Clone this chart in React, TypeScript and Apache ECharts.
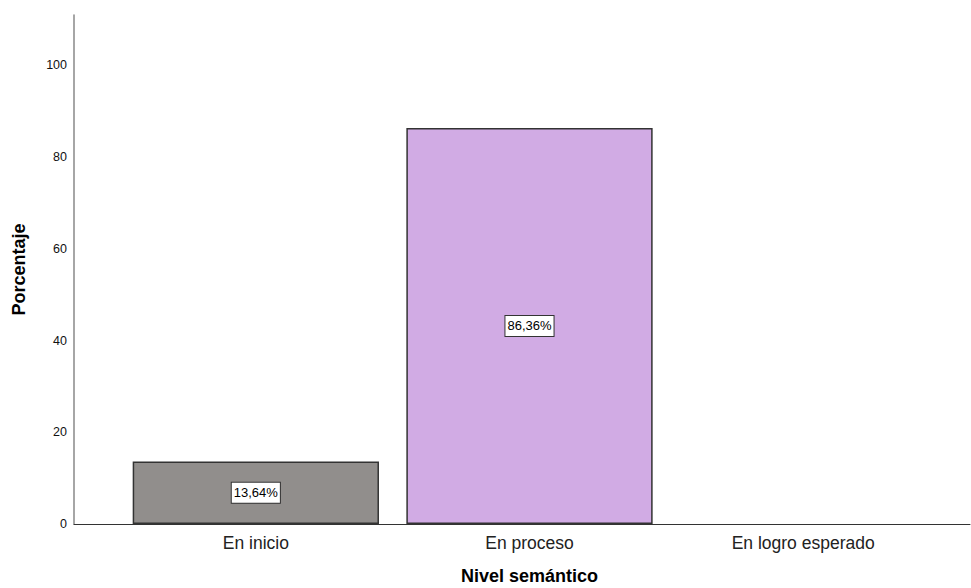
import React, { useEffect, useRef } from "react";
import * as echarts from "echarts";

const categories = ["En inicio", "En proceso", "En logro esperado"];
const values = [13.64, 86.36, 0];
const labels = ["13,64%", "86,36%", ""];
const barColors = ["#918e8c", "#d1abe4", "#cccccc"];
const yTicks = [0, 20, 40, 60, 80, 100];

export default function App() {
  const ref = useRef<HTMLDivElement>(null);
  useEffect(() => {
    if (!ref.current) return;
    const chart = echarts.init(ref.current, null, { renderer: "svg" });
    const font = "'Liberation Sans', Arial, sans-serif";
    chart.setOption({
      animation: false,
      backgroundColor: "#ffffff",
      grid: [
        { left: 119, right: 31, top: 15, bottom: 64, outerBoundsMode: "none", containLabel: false },
        { left: 74, right: 1, top: 15, bottom: 64, outerBoundsMode: "none", containLabel: false },
      ],
      xAxis: [
        {
          type: "category",
          gridIndex: 0,
          data: categories,
          axisLine: { show: false },
          axisTick: { show: false },
          axisLabel: { color: "#222", fontSize: 17.5, fontFamily: font, margin: 10 },
          name: "Nivel semántico",
          nameLocation: "middle",
          nameGap: 43,
          nameTextStyle: { color: "#000", fontSize: 18, fontWeight: "bold", fontFamily: font },
        },
        {
          type: "value",
          gridIndex: 1,
          min: 0,
          max: 1,
          axisLine: { show: true, lineStyle: { color: "#333", width: 1 } },
          axisTick: { show: false },
          axisLabel: { show: false },
          splitLine: { show: false },
        },
      ],
      yAxis: [
        {
          type: "value",
          gridIndex: 0,
          min: 0,
          max: 111,
          show: false,
          splitLine: { show: false },
        },
        {
          type: "value",
          gridIndex: 1,
          min: 0,
          max: 111,
          interval: 20,
          axisLine: { show: true, lineStyle: { color: "#888", width: 1.5 } },
          axisTick: { show: false },
          splitLine: { show: false },
          axisLabel: {
            color: "#111",
            fontSize: 12.5,
            fontFamily: font,
            margin: 7,
            showMaxLabel: false,
            formatter: (v: number) => (yTicks.includes(v) ? String(v) : ""),
          },
          name: "Porcentaje",
          nameLocation: "middle",
          nameGap: 46,
          nameRotate: 90,
          nameTextStyle: { color: "#000", fontSize: 18, fontWeight: "bold", fontFamily: font },
        },
      ],
      series: [
        {
          type: "bar",
          xAxisIndex: 0,
          yAxisIndex: 0,
          barCategoryGap: "10%",
          data: values.map((v, i) => ({
            value: v,
            itemStyle: {
              color: barColors[i],
              borderColor: "#333",
              borderWidth: v > 0 ? 1.5 : 0,
              opacity: v > 0 ? 1 : 0,
            },
            label: {
              show: v > 0,
              position: "inside",
              formatter: labels[i],
              color: "#000",
              fontSize: 13,
              fontFamily: font,
              backgroundColor: "#fff",
              borderColor: "#333",
              borderWidth: 1,
              padding: [4, 2, 3, 2],
            },
          })),
        },
      ],
    });
    return () => chart.dispose();
  }, []);
  return <div ref={ref} style={{ width: 971, height: 588, position: "absolute", left: 0, top: 0 }} />;
}
